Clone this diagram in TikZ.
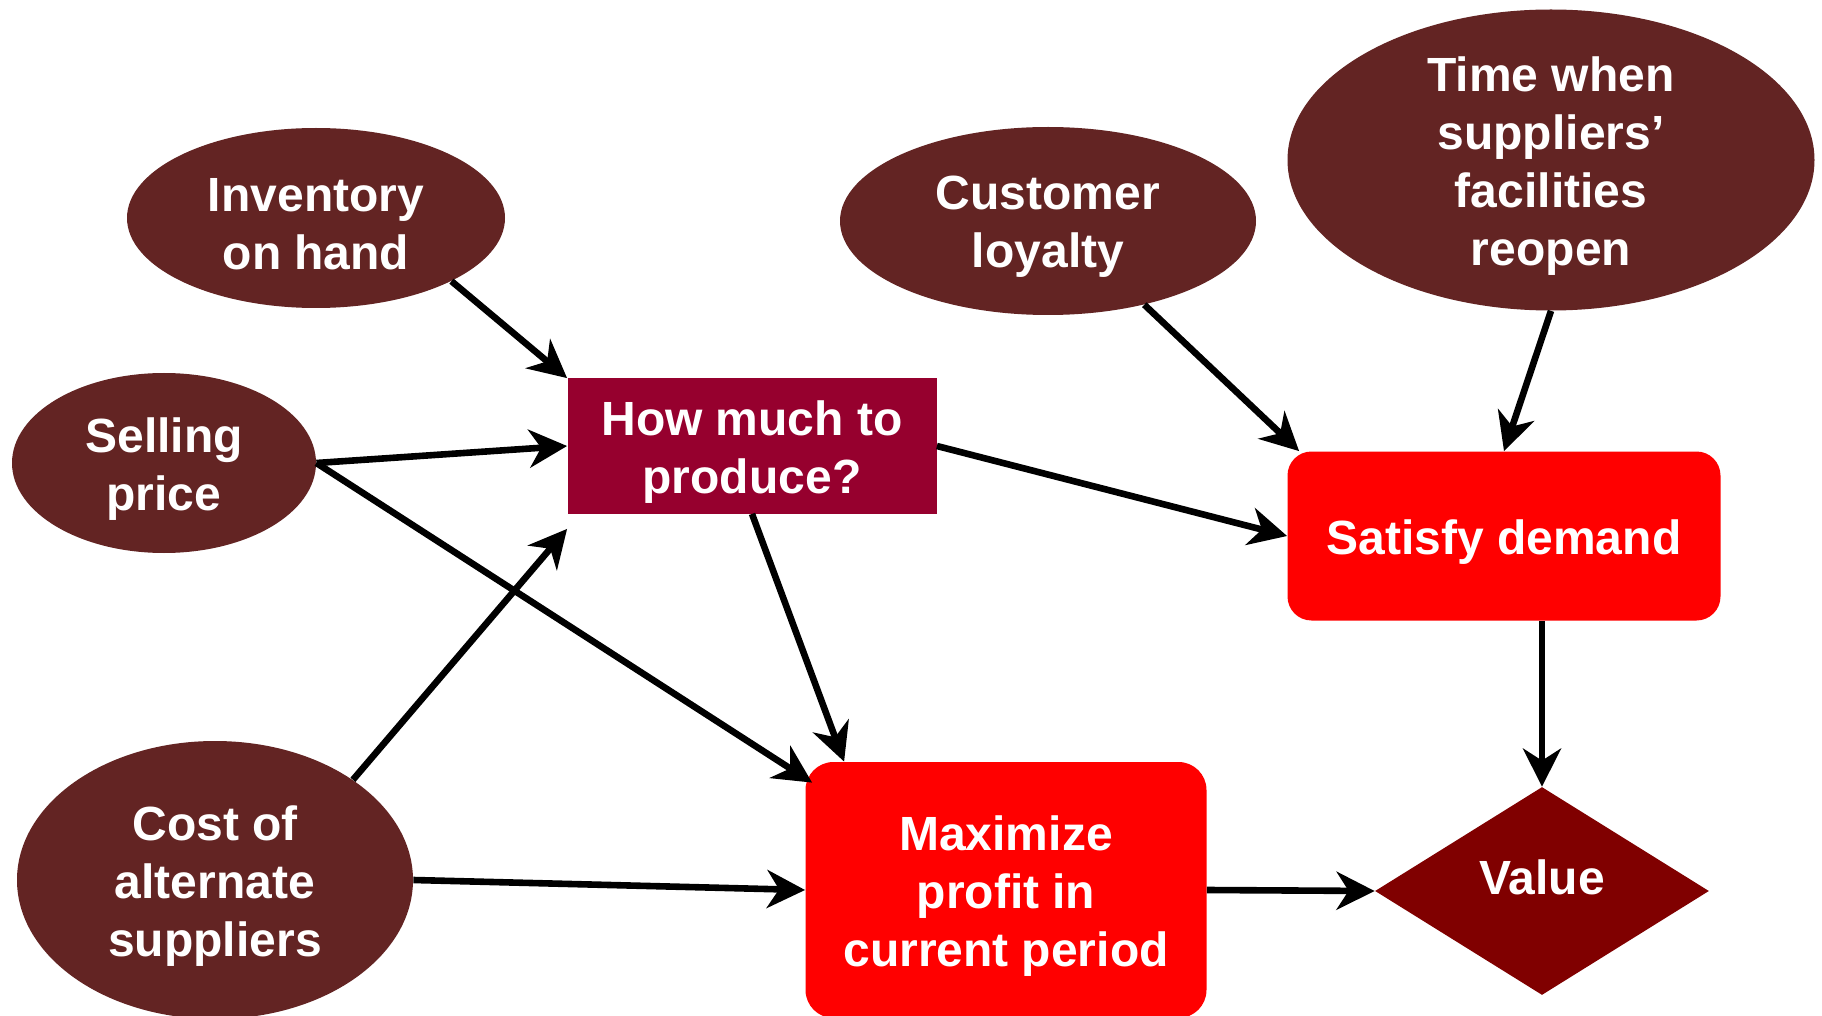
\documentclass[tikz,border=0pt]{standalone}
\usepackage{fontspec}
\setmainfont{Liberation Sans}
\usetikzlibrary{shapes.geometric,arrows.meta,calc}
\definecolor{ellcol}{RGB}{99,36,35}
\definecolor{howcol}{RGB}{150,0,46}
\definecolor{redcol}{RGB}{255,0,0}
\definecolor{valcol}{RGB}{128,0,0}
\begin{document}
\begin{tikzpicture}[x=0.5pt,y=-0.5pt,
 base/.style={text=white, font=\fontsize{24}{29}\selectfont\bfseries, align=center, inner sep=0pt},
 txt/.style={base, yshift=-3pt},
 ell/.style={base, ellipse, fill=ellcol},
 decbox/.style={base, rectangle, fill=howcol},
 objbox/.style={base, rectangle, rounded corners=12pt, fill=redcol},
 valnode/.style={base, diamond, fill=valcol},
 arr/.style={line width=3.3pt, -{Stealth[length=19pt,width=19pt,inset=6pt]}}]
\clip (0,0) rectangle (1822,1016);
\useasboundingbox (0,0) rectangle (1822,1016);
\fill[white] (0,0) rectangle (1822,1016);

\node[ell, minimum width=189pt, minimum height=90pt, label={[txt]center:Inventory\\on hand}] (inv) at (316,218) {};
\node[ell, minimum width=208pt, minimum height=94pt, label={[txt]center:Customer\\loyalty}] (cust) at (1048,221) {};
\node[ell, minimum width=263.5pt, minimum height=150.5pt, label={[txt]center:Time when\\suppliers’\\facilities\\reopen}] (time) at (1551,160) {};
\node[ell, minimum width=152pt, minimum height=90pt, label={[txt]center:Selling\\price}] (sell) at (164,463) {};
\node[ell, minimum width=198pt, minimum height=139pt, label={[txt]center:Cost of\\alternate\\suppliers}] (cost) at (215,880) {};
\node[decbox, minimum width=184.5pt, minimum height=67.5pt, label={[txt]center:How much to\\produce?}] (how) at (752,446) {};
\node[objbox, minimum width=216.5pt, minimum height=84.5pt, label={[txt]center:Satisfy demand}] (sat) at (1504,536) {};
\node[objbox, minimum width=200.5pt, minimum height=128pt, rounded corners=14pt, label={[txt]center:Maximize\\profit in\\current period}] (maxp) at (1006,890) {};
\node[valnode, minimum width=167pt, minimum height=104pt, text depth=14pt] (val) at (1542,891) {Value};

\draw[arr] (inv.-25) -- (how.north west);
\draw[arr] (sell.east) -- (how.west);
\draw[arr] (sell.east) -- ($(maxp.north west)+(7,21)$);
\draw[arr] (cost.36) -- ($(how.south west)+(0,15)$);
\draw[arr] (cost.east) -- (maxp.west);
\draw[arr] (how.south) -- ($(maxp.north west)+(39,0)$);
\draw[arr] (how.east) -- (sat.west);
\draw[arr] (cust.-41) -- ($(sat.north west)+(12,0)$);
\draw[arr] (time.south) -- (sat.north);
\draw[arr] (val.north |- sat.south) -- (val.north);
\draw[arr] (maxp.east) -- (val.west);
\end{tikzpicture}
\end{document}
